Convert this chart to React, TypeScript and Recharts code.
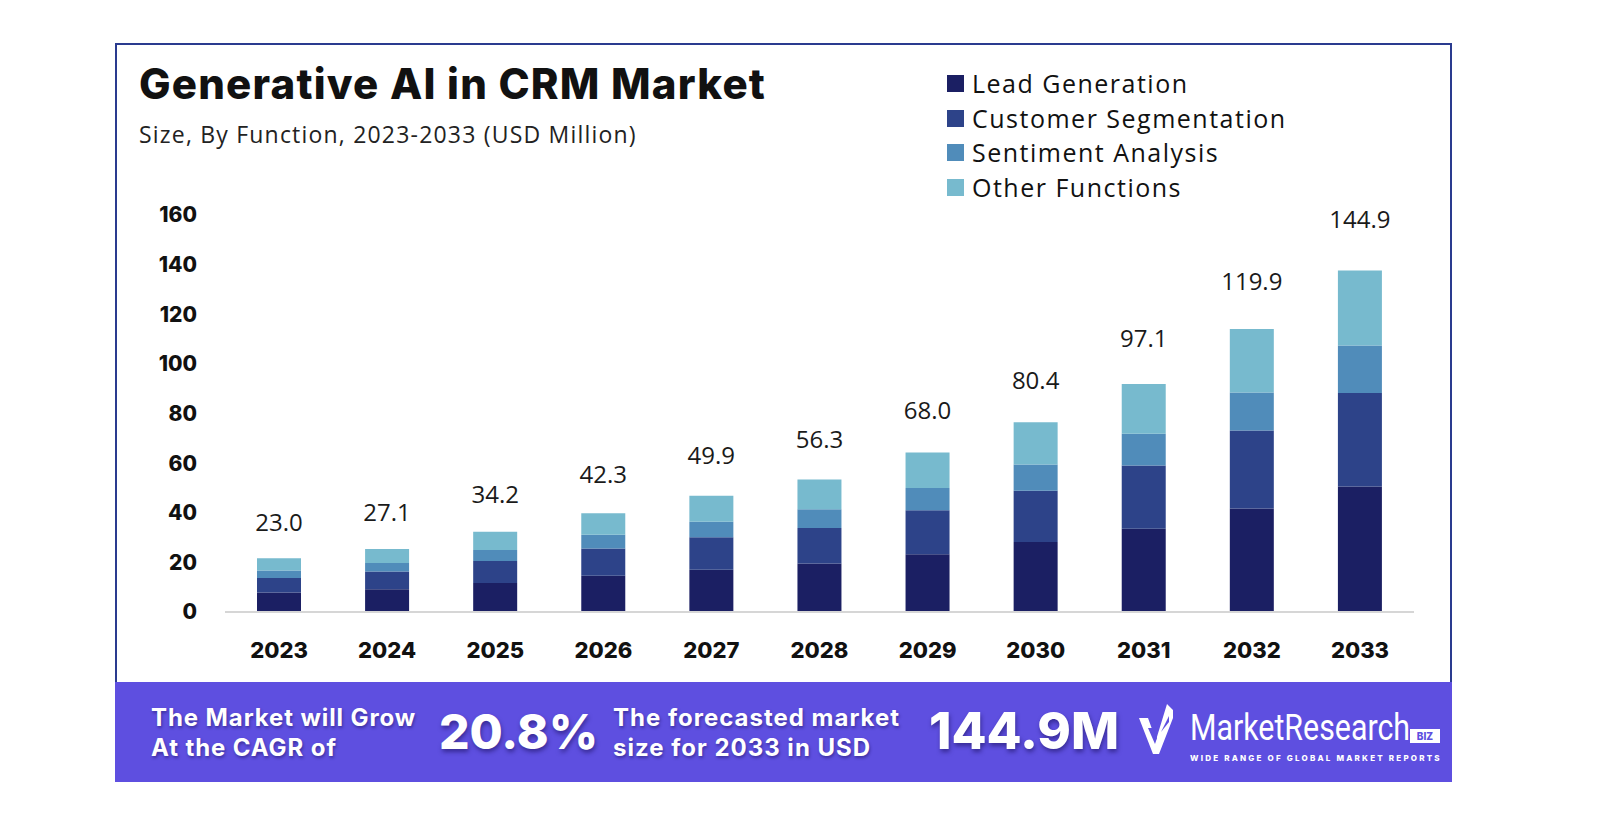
import { Bar, BarChart, LabelList, Legend, XAxis, YAxis } from "recharts";

const years = ["2023", "2024", "2025", "2026", "2027", "2028", "2029", "2030", "2031", "2032", "2033"];
const leadGeneration = [7.9, 9.2, 11.7, 14.6, 17.0, 19.5, 23.3, 28.2, 33.6, 41.7, 50.6];
const customerSegmentation = [5.8, 7.1, 8.9, 11.0, 13.1, 14.4, 17.7, 20.7, 25.4, 31.4, 37.7];
const sentimentAnalysis = [3.0, 3.4, 4.4, 5.5, 6.3, 7.5, 9.0, 10.5, 12.8, 15.4, 19.1];
const otherFunctions = [5.0, 5.7, 7.3, 8.7, 10.5, 12.0, 14.3, 17.1, 20.1, 25.6, 30.2];
const marketTotals = [23.0, 27.1, 34.2, 42.3, 49.9, 56.3, 68.0, 80.4, 97.1, 119.9, 144.9];
const seriesNames = ["Lead Generation", "Customer Segmentation", "Sentiment Analysis", "Other Functions"];
const yTicks = [0, 20, 40, 60, 80, 100, 120, 140, 160];

const COLORS = {
  lead: "#1b1f63",
  customer: "#2d4389",
  sentiment: "#508cba",
  other: "#77bace",
};

// the label rides on a transparent top slice, so it sits over the printed total
const data = years.map((year, i) => {
  const stacked = leadGeneration[i] + customerSegmentation[i] + sentimentAnalysis[i] + otherFunctions[i];
  return {
    year,
    lead: leadGeneration[i],
    customer: customerSegmentation[i],
    sentiment: sentimentAnalysis[i],
    other: otherFunctions[i],
    rest: Math.max(0, marketTotals[i] - stacked),
    label: marketTotals[i].toFixed(1),
  };
});

const HEAD_FONT = "Inter, 'Noto Sans', sans-serif";
const BODY_FONT = "'Open Sans', Lato, sans-serif";
const SHADOW = "1px 2px 3px rgba(20,10,80,0.45)";

function LegendList({ payload }: { payload?: any[] }) {
  const items = (payload ?? [])
    .filter((p) => seriesNames.includes(p.value))
    .sort((a, b) => seriesNames.indexOf(a.value) - seriesNames.indexOf(b.value));
  return (
    <div style={{ fontFamily: BODY_FONT, fontSize: 25, letterSpacing: 1.5, color: "#111", lineHeight: "34.7px" }}>
      {items.map((entry) => (
        <div key={entry.value} style={{ display: "flex", alignItems: "center", whiteSpace: "nowrap" }}>
          <span style={{ display: "inline-block", width: 17, height: 17, background: entry.color, marginRight: 8 }} />
          {entry.value}
        </div>
      ))}
    </div>
  );
}

function CheckLogo() {
  return (
    <svg width="36" height="52" viewBox="0 0 36 52" style={{ position: "absolute", left: 1139, top: 704 }}>
      <path d="M0 14 L9 14 L17 36 L28 0 L34 6 L34 14 L20 50 L14 50 Z" fill="#ffffff" />
      <path d="M9 24 L14 24 L18 34 L16 40 Z" fill="#5e4fe0" />
      <path d="M22 28 L30 12 L30 18 Z" fill="#5e4fe0" />
    </svg>
  );
}

export default function App() {
  return (
    <div style={{ position: "absolute", left: 0, top: 0, width: 1600, height: 827, background: "#fff", overflow: "hidden" }}>
      <div
        style={{
          position: "absolute",
          left: 115,
          top: 43,
          width: 1337,
          height: 739,
          border: "2px solid #2a3b8f",
          boxSizing: "border-box",
        }}
      />
      <div
        style={{
          position: "absolute",
          left: 139,
          top: 58,
          fontFamily: HEAD_FONT,
          fontWeight: 800,
          fontSize: 42,
          color: "#111",
          letterSpacing: 1.2,
          whiteSpace: "nowrap",
        }}
      >
        Generative AI in CRM Market
      </div>
      <div
        style={{
          position: "absolute",
          left: 139,
          top: 118,
          fontFamily: BODY_FONT,
          fontSize: 23,
          letterSpacing: 1.2,
          color: "#222",
          whiteSpace: "nowrap",
        }}
      >
        Size, By Function, 2023-2033 (USD Million)
      </div>

      <div style={{ position: "absolute", left: 0, top: 0 }}>
        <BarChart width={1600} height={827} data={data} margin={{ top: 215, right: 186, bottom: 155, left: 165 }}>
          <XAxis
            dataKey="year"
            tickLine={false}
            tickSize={0}
            tickMargin={30}
            height={60}
            axisLine={{ stroke: "#d6d6d6", strokeWidth: 2 }}
            tick={{ fill: "#111", fontSize: 22, fontWeight: 800, fontFamily: HEAD_FONT }}
          />
          <YAxis
            domain={[0, 160]}
            ticks={yTicks}
            width={60}
            axisLine={false}
            tickLine={false}
            tickSize={0}
            tickMargin={28}
            tick={{ fill: "#111", fontSize: 21, fontWeight: 800, fontFamily: HEAD_FONT }}
          />
          <Legend
            layout="vertical"
            align="center"
            verticalAlign="middle"
            content={(props: any) => <LegendList payload={props.payload} />}
            wrapperStyle={{ left: 947, top: 66, width: "auto", height: "auto" }}
          />
          <Bar dataKey="lead" name="Lead Generation" stackId="a" fill={COLORS.lead} barSize={44} isAnimationActive={false} />
          <Bar dataKey="customer" name="Customer Segmentation" stackId="a" fill={COLORS.customer} barSize={44} isAnimationActive={false} />
          <Bar dataKey="sentiment" name="Sentiment Analysis" stackId="a" fill={COLORS.sentiment} barSize={44} isAnimationActive={false} />
          <Bar dataKey="other" name="Other Functions" stackId="a" fill={COLORS.other} barSize={44} isAnimationActive={false} />
          <Bar dataKey="rest" stackId="a" fill="transparent" legendType="none" barSize={44} isAnimationActive={false}>
            <LabelList dataKey="label" position="top" offset={24} fill="#1a1a1a" fontSize={24} fontFamily={BODY_FONT} />
          </Bar>
        </BarChart>
      </div>

      <div style={{ position: "absolute", left: 115, top: 682, width: 1337, height: 100, background: "#5e4fe0" }} />
      <div style={{ position: "absolute", left: 151, top: 703, color: "#fff", fontFamily: HEAD_FONT, fontWeight: 700, fontSize: 24, letterSpacing: 0.9, lineHeight: "30px", textShadow: SHADOW, whiteSpace: "nowrap" }}>
        The Market will Grow
        <br />
        At the CAGR of
      </div>
      <div style={{ position: "absolute", left: 439, top: 700, color: "#fff", fontFamily: HEAD_FONT, fontWeight: 800, fontSize: 48, lineHeight: "64px", textShadow: "1px 3px 4px rgba(20,10,80,0.5)", whiteSpace: "nowrap" }}>
        20.8%
      </div>
      <div style={{ position: "absolute", left: 613, top: 703, color: "#fff", fontFamily: HEAD_FONT, fontWeight: 700, fontSize: 24, letterSpacing: 1, lineHeight: "30px", textShadow: SHADOW, whiteSpace: "nowrap" }}>
        The forecasted market
        <br />
        size for 2033 in USD
      </div>
      <div style={{ position: "absolute", left: 929, top: 699, color: "#fff", fontFamily: HEAD_FONT, fontWeight: 800, fontSize: 51, lineHeight: "64px", textShadow: "1px 3px 4px rgba(20,10,80,0.5)", whiteSpace: "nowrap" }}>
        144.9M
      </div>
      <CheckLogo />
      <div style={{ position: "absolute", left: 1190, top: 708, color: "#fff", fontFamily: "Roboto, 'Liberation Sans', sans-serif", fontSize: 37, lineHeight: "40px", whiteSpace: "nowrap", transform: "scaleX(0.82)", transformOrigin: "left top" }}>
        MarketResearch
      </div>
      <div style={{ position: "absolute", left: 1410, top: 729, width: 30, height: 14, background: "#fff", color: "#5e4fe0", fontFamily: HEAD_FONT, fontWeight: 800, fontSize: 10, lineHeight: "14px", textAlign: "center" }}>
        BIZ
      </div>
      <div style={{ position: "absolute", left: 1190, top: 753, color: "#fff", fontFamily: HEAD_FONT, fontWeight: 800, fontSize: 8, letterSpacing: 2.2, whiteSpace: "nowrap" }}>
        WIDE RANGE OF GLOBAL MARKET REPORTS
      </div>
    </div>
  );
}
